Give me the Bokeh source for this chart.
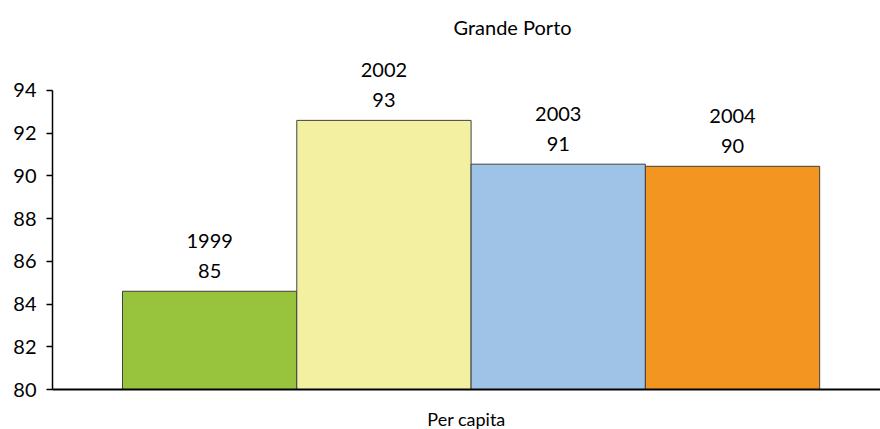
from bokeh.plotting import figure
from bokeh.models import Range1d, ColumnDataSource, FixedTicker, Title
from bokeh.core.properties import value
from bokeh.embed import file_html
from bokeh.resources import INLINE

years = ["1999", "2002", "2003", "2004"]
values = [84.6, 92.6, 90.55, 90.45]
value_labels = ["85", "93", "91", "90"]
colors = ["#98C43D", "#F3F1A1", "#9EC3E6", "#F39621"]
y_ticks = [80, 82, 84, 86, 88, 90, 92, 94]

FONT = "Lato"

src = ColumnDataSource(dict(
    x=list(range(len(years))),
    top=values,
    year=years,
    lab=value_labels,
    color=colors,
))

p = figure(
    frame_width=828, frame_height=349,
    x_range=Range1d(-0.9016, 3.849), y_range=Range1d(80, 96.34),
    output_backend="svg", toolbar_location=None,
    min_border_left=52, min_border_right=0, min_border_top=40, min_border_bottom=0,
)
p.add_layout(Title(text="Grande Porto", align="left", offset=401,
                   text_font=FONT, text_font_size="20px", text_font_style="normal",
                   text_color="#000000", standoff=4), "above")

p.vbar(x="x", top="top", bottom=80, width=1.0, source=src,
       fill_color="color", line_color="#404040", line_width=1)

p.text(x="x", y="top", text="lab", source=src, y_offset=-20,
       text_align="center", text_baseline="alphabetic",
       text_font=value(FONT), text_font_size="20px", text_color="#000000")
p.text(x="x", y="top", text="year", source=src, y_offset=-50,
       text_align="center", text_baseline="alphabetic",
       text_font=value(FONT), text_font_size="20px", text_color="#000000")

p.outline_line_color = None
p.xgrid.visible = False
p.ygrid.visible = False

ya = p.yaxis[0]
ya.ticker = FixedTicker(ticks=y_ticks)
ya.bounds = (80, 94)
ya.axis_line_color = "#000000"
ya.axis_line_width = 1.5
ya.major_tick_line_color = "#000000"
ya.major_tick_line_width = 1.5
ya.major_tick_in = 0
ya.major_tick_out = 6
ya.minor_tick_line_color = None
ya.major_label_standoff = 10
ya.major_label_text_font = FONT
ya.major_label_text_font_size = "20px"
ya.major_label_text_color = "#000000"

xa = p.xaxis[0]
xa.ticker = FixedTicker(ticks=[])
xa.axis_line_color = "#000000"
xa.axis_line_width = 2
xa.major_tick_line_color = None
xa.minor_tick_line_color = None
xa.major_label_standoff = 0
xa.axis_label = "Per capita"
xa.axis_label_text_font = FONT
xa.axis_label_text_font_size = "18px"
xa.axis_label_text_font_style = "normal"
xa.axis_label_text_color = "#000000"
xa.axis_label_standoff = 18

open("out.html", "w").write(file_html(p, INLINE))
